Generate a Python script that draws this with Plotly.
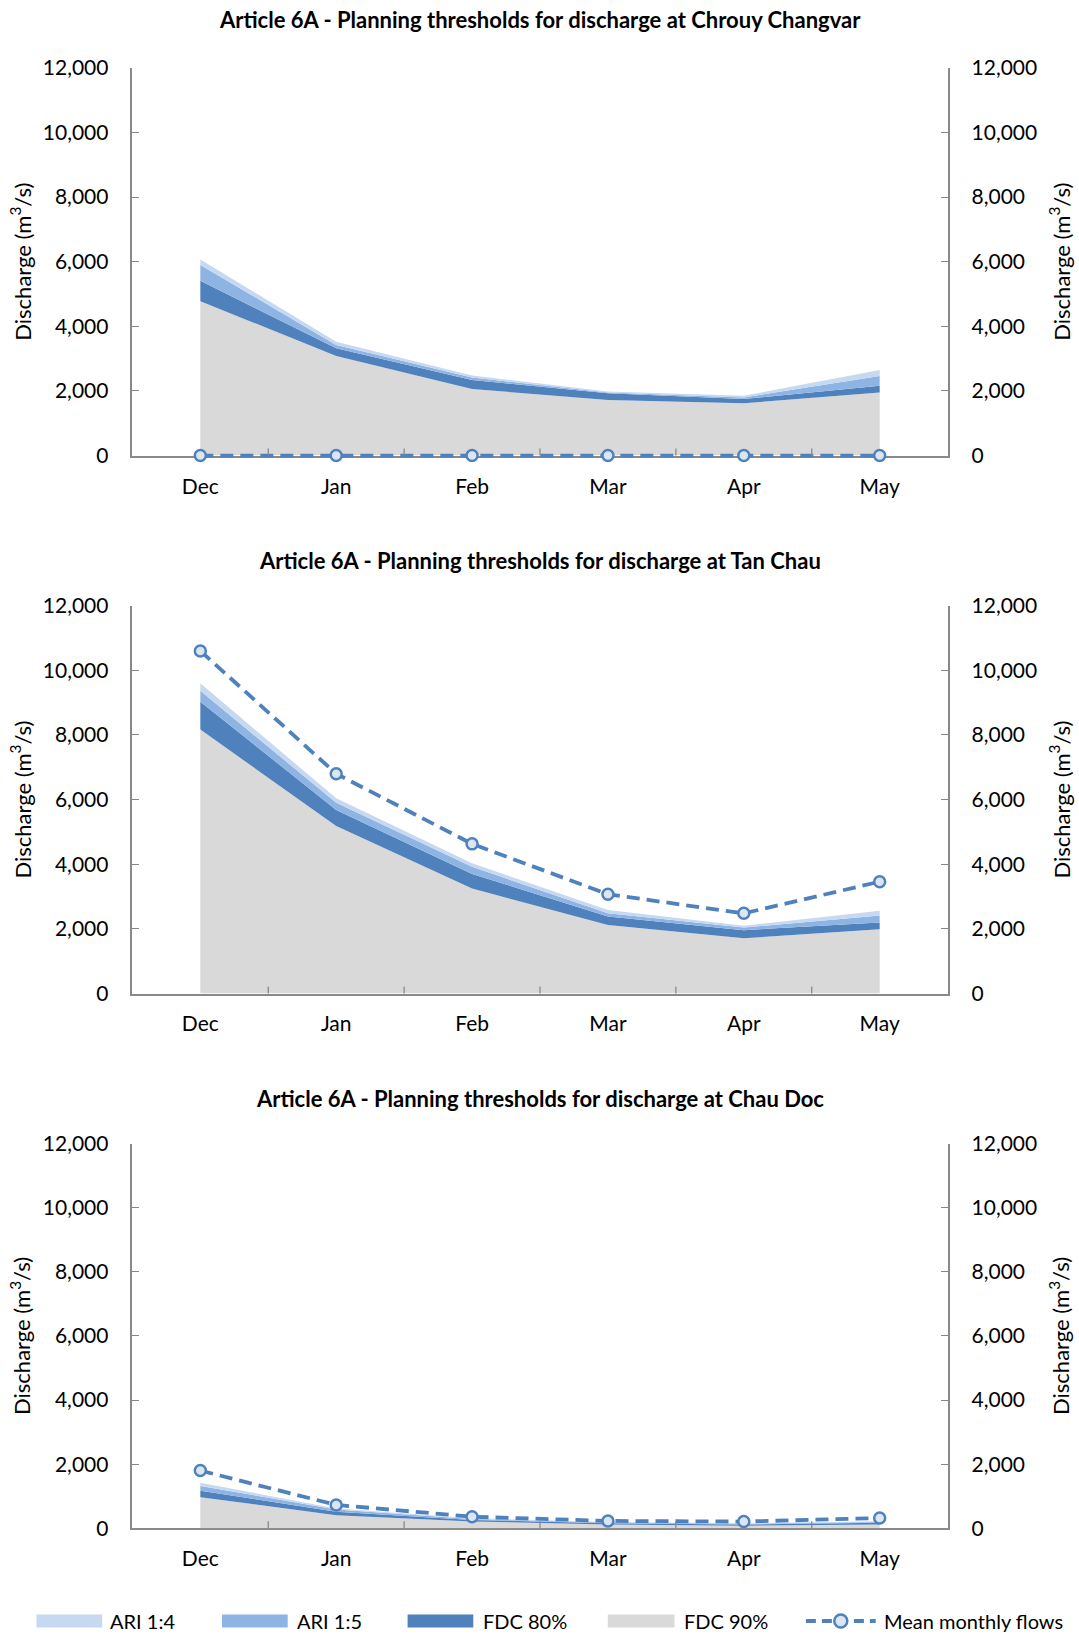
import plotly.graph_objects as go

months = ["Dec", "Jan", "Feb", "Mar", "Apr", "May"]
stations = ["Chrouy Changvar", "Tan Chau", "Chau Doc"]
y_ticks = [0, 2000, 4000, 6000, 8000, 10000, 12000]

# Chrouy Changvar thresholds (m3/s), upper edge of each band
cc_fdc90 = [4780, 3080, 2060, 1720, 1620, 1950]
cc_fdc80 = [5410, 3320, 2340, 1930, 1750, 2160]
cc_ari5 = [5900, 3420, 2420, 1950, 1800, 2460]
cc_ari4 = [6070, 3520, 2480, 1980, 1850, 2650]
cc_mean = [0, 0, 0, 0, 0, 0]

# Tan Chau thresholds (m3/s)
tc_fdc90 = [8170, 5180, 3250, 2120, 1710, 1990]
tc_fdc80 = [9030, 5680, 3700, 2380, 1960, 2200]
tc_ari5 = [9370, 5900, 3920, 2480, 2040, 2410]
tc_ari4 = [9600, 6040, 4030, 2580, 2100, 2560]
tc_mean = [10600, 6800, 4630, 3070, 2480, 3460]

# Chau Doc thresholds (m3/s)
cd_fdc90 = [970, 410, 210, 120, 80, 120]
cd_fdc80 = [1170, 520, 260, 160, 120, 170]
cd_ari5 = [1320, 590, 290, 180, 140, 200]
cd_ari4 = [1420, 620, 310, 200, 160, 220]
cd_mean = [1800, 730, 360, 230, 210, 320]

series_names = ["FDC 90%", "FDC 80%", "ARI 1:5", "ARI 1:4"]
series_colors = ["#D9D9D9", "#4F81BD", "#8EB4E3", "#C6D9F1"]
mean_color = "#4F81BD"
marker_fill = "#DCE6F2"
axis_color = "#898989"
FONT = "Lato, 'Open Sans', sans-serif"
Y_MAX = 12000

panels = [
    (cc_fdc90, cc_fdc80, cc_ari5, cc_ari4, cc_mean),
    (tc_fdc90, tc_fdc80, tc_ari5, tc_ari4, tc_mean),
    (cd_fdc90, cd_fdc80, cd_ari5, cd_ari4, cd_mean),
]

W, H = 1079, 1635
x_dom = [132.4 / W, 947.6 / W]
# plot area (top, bottom) in pixels for each panel
panel_px = [(67.8, 455.6), (605.7, 993.5), (1143.6, 1528.3)]
title_px = [19.8, 560.0, 1098.0]
# extra room below the x axis so the mean-flow line is not cut at zero
PAD_PX = 12

fig = go.Figure()
layout = {}
annotations = []
shapes = []

for i, (levels, (top_px, bot_px)) in enumerate(zip(panels, panel_px)):
    xa = "x" if i == 0 else f"x{i + 1}"
    ya_left = f"y{2 * i + 1}" if i else "y"
    ya_right = f"y{2 * i + 2}"
    xa_line = f"x{i + 4}"
    ya_line = f"y{i + 7}"
    fdc90, fdc80, ari5, ari4, mean = levels

    # stacked threshold bands
    for j, (vals, name, col) in enumerate(zip([fdc90, fdc80, ari5, ari4], series_names, series_colors)):
        fig.add_trace(go.Scatter(
            x=months, y=vals, name=name, mode="lines",
            line=dict(width=0, color=col), fillcolor=col,
            fill="tozeroy" if j == 0 else "tonexty",
            xaxis=xa, yaxis=ya_left, showlegend=False, hoverinfo="skip"))

    # transparent copy so the right-hand axis is drawn
    fig.add_trace(go.Scatter(
        x=months, y=mean, mode="lines", opacity=0, line=dict(width=0),
        xaxis=xa, yaxis=ya_right, showlegend=False, hoverinfo="skip"))

    # mean monthly flows on a hidden axis pair with the same scale
    fig.add_trace(go.Scatter(
        x=months, y=mean, name="Mean monthly flows", mode="lines+markers",
        line=dict(color=mean_color, width=3.8, dash="13px,7px"),
        marker=dict(symbol="circle", size=11, color=marker_fill,
                    line=dict(color=mean_color, width=2.5)),
        cliponaxis=False, xaxis=xa_line, yaxis=ya_line, showlegend=False))

    y_dom = [1 - bot_px / H, 1 - top_px / H]
    px_per_unit = (bot_px - top_px) / Y_MAX
    y_dom_line = [1 - (bot_px + PAD_PX) / H, 1 - top_px / H]
    y_range_line = [-PAD_PX / px_per_unit, Y_MAX]

    xkey = "xaxis" if i == 0 else f"xaxis{i + 1}"
    ylkey = "yaxis" if i == 0 else f"yaxis{2 * i + 1}"
    yrkey = f"yaxis{2 * i + 2}"
    common = dict(tickwidth=1.3, tickcolor=axis_color, ticklen=7,
                  showline=True, linecolor=axis_color, linewidth=1.5,
                  showgrid=False, zeroline=False, automargin=False,
                  layer="below traces",
                  tickfont=dict(family=FONT, size=21, color="#000000"))
    layout[xkey] = dict(domain=x_dom, anchor=ya_left, type="category",
                        categoryorder="array", categoryarray=months,
                        range=[-0.5, 5.5], tickmode="array", tickvals=months,
                        ticks="", ticklabelstandoff=11, **common)
    layout[ylkey] = dict(domain=y_dom, anchor=xa, range=[0, Y_MAX],
                         tickvals=y_ticks, tickformat=",d", side="left",
                         ticks="inside", ticklabelstandoff=18, **common)
    layout[yrkey] = dict(domain=y_dom, anchor=xa, overlaying=ya_left, side="right",
                         range=[0, Y_MAX], tickvals=y_ticks, tickformat=",d",
                         ticks="inside", ticklabelstandoff=18, **common)
    layout[f"xaxis{i + 4}"] = dict(domain=x_dom, anchor=ya_line, type="category",
                                   categoryorder="array", categoryarray=months,
                                   range=[-0.5, 5.5], visible=False, automargin=False)
    layout[f"yaxis{i + 7}"] = dict(domain=y_dom_line, anchor=xa_line,
                                   range=y_range_line, visible=False, automargin=False)

    # tick marks on the boundaries between months
    for b in range(1, 6):
        shapes.append(dict(
            type="line", xref=xa, yref="paper",
            x0=b - 0.5, x1=b - 0.5, y0=1 - bot_px / H, y1=1 - (bot_px - 7) / H,
            line=dict(color=axis_color, width=1.3)))

    annotations.append(dict(
        text=f"<b>Article 6A - Planning thresholds for discharge at {stations[i]}</b>",
        xref="paper", yref="paper", x=0.5, y=1 - title_px[i] / H,
        xanchor="center", yanchor="middle", showarrow=False,
        font=dict(family=FONT, size=22, color="#000000")))
    mid = 1 - (top_px + bot_px) / 2 / H
    for xpx in (21, 1060):
        annotations.append(dict(
            text="Discharge (m<sup>3</sup>/s)", textangle=-90,
            xref="paper", yref="paper", x=xpx / W, y=mid,
            xanchor="center", yanchor="middle", showarrow=False,
            font=dict(family=FONT, size=22, color="#000000")))

# legend row along the bottom
legend_y = 1 - 1621 / H
sw_h = 13 / H
legend_items = [
    ("ARI 1:4", series_colors[3], 36.5, 102.2, 108.4),
    ("ARI 1:5", series_colors[2], 222.0, 287.7, 295.0),
    ("FDC 80%", series_colors[1], 407.6, 473.3, 480.6),
    ("FDC 90%", series_colors[0], 607.8, 674.5, 681.8),
]
for label, col, x0, x1, tx in legend_items:
    shapes.append(dict(type="rect", xref="paper", yref="paper",
                       x0=x0 / W, x1=x1 / W, y0=legend_y - sw_h / 2, y1=legend_y + sw_h / 2,
                       fillcolor=col, line=dict(width=0)))
    annotations.append(dict(text=label, xref="paper", yref="paper", x=tx / W, y=legend_y,
                            xanchor="left", yanchor="middle", showarrow=False,
                            font=dict(family=FONT, size=20, color="#000000")))
shapes.append(dict(type="line", xref="paper", yref="paper",
                   x0=805.9 / W, x1=875.7 / W, y0=legend_y, y1=legend_y,
                   line=dict(color=mean_color, width=3.8, dash="10px,6px")))
cx = 840.8
shapes.append(dict(type="circle", xref="paper", yref="paper",
                   x0=(cx - 6.5) / W, x1=(cx + 6.5) / W,
                   y0=legend_y - 6.5 / H, y1=legend_y + 6.5 / H,
                   fillcolor=marker_fill, line=dict(color=mean_color, width=2.5)))
annotations.append(dict(text="Mean monthly flows", xref="paper", yref="paper", x=882 / W, y=legend_y,
                        xanchor="left", yanchor="middle", showarrow=False,
                        font=dict(family=FONT, size=20, color="#000000")))

fig.update_layout(
    width=W, height=H, margin=dict(l=0, r=0, t=0, b=0, autoexpand=False),
    paper_bgcolor="white", plot_bgcolor="rgba(0,0,0,0)",
    showlegend=False, annotations=annotations, shapes=shapes,
    font=dict(family=FONT, color="#000000"),
    **layout)

fig.write_html("out.html")
